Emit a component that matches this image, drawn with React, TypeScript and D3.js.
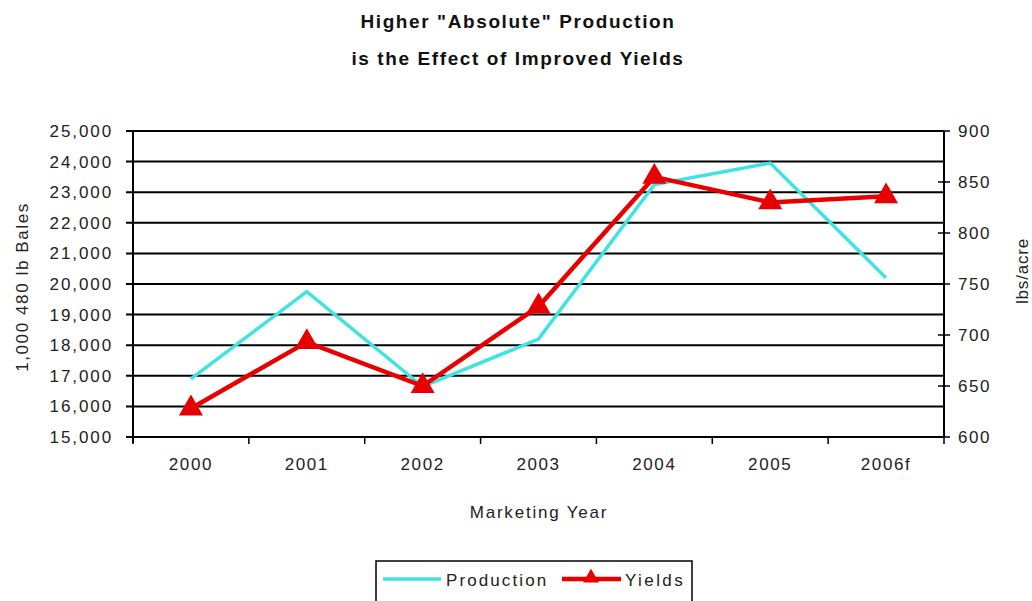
import React from "react";
import * as d3 from "d3";

const years = ["2000", "2001", "2002", "2003", "2004", "2005", "2006f"];
const production = [16900, 19750, 16650, 18200, 23250, 23950, 20200];
const yields = [628, 693, 650, 728, 855, 830, 836];
const leftTicks = [15000, 16000, 17000, 18000, 19000, 20000, 21000, 22000, 23000, 24000, 25000];
const rightTicks = [600, 650, 700, 750, 800, 850, 900];

const W = 1032;
const H = 601;
const M = { left: 133, right: 944, top: 131, bottom: 437 };
const FONT = "'Liberation Sans', Arial, sans-serif";
const CYAN = "#3FE3E3";
const RED = "#E80000";

export default function App() {
  const x = d3.scaleBand<string>().domain(years).range([M.left, M.right]);
  const yL = d3.scaleLinear().domain([15000, 25000]).range([M.bottom, M.top]);
  const yR = d3.scaleLinear().domain([600, 900]).range([M.bottom, M.top]);
  const cx = (d: string) => (x(d) as number) + x.bandwidth() / 2;
  const fmt = d3.format(",");

  const prodLine = d3.line<number>().x((_, i) => cx(years[i])).y((d) => yL(d));
  const yieldLine = d3.line<number>().x((_, i) => cx(years[i])).y((d) => yR(d));
  const tri = d3.symbol().type(d3.symbolTriangle).size(250)();

  const boundaries = years.map((d) => x(d) as number).concat([M.right]);

  return (
    <svg width={W} height={H} style={{ position: "absolute", left: 0, top: 0, background: "#fff" }}
      fontFamily={FONT}>
      <rect x={0} y={0} width={W} height={H} fill="#fff" />
      {/* title */}
      <text x={518} y={28} textAnchor="middle" fontSize={19} fontWeight="bold" letterSpacing={1.6} fill="#111">
        Higher "Absolute" Production
      </text>
      <text x={518} y={65} textAnchor="middle" fontSize={19} fontWeight="bold" letterSpacing={1.6} fill="#111">
        is the Effect of Improved Yields
      </text>

      {/* gridlines */}
      {leftTicks.map((t) => (
        <line key={"g" + t} x1={M.left - 7} x2={M.right} y1={yL(t)} y2={yL(t)} stroke="#000" strokeWidth={2} />
      ))}
      {/* left axis */}
      <line x1={M.left} x2={M.left} y1={M.top} y2={M.bottom + 6} stroke="#000" strokeWidth={2} />
      {leftTicks.map((t) => (
        <text key={"lt" + t} x={113} y={yL(t) + 6} textAnchor="end" fontSize={17} letterSpacing={1.9} fill="#222">
          {fmt(t)}
        </text>
      ))}
      {/* right axis */}
      <line x1={M.right} x2={M.right} y1={M.top} y2={M.bottom} stroke="#000" strokeWidth={2} />
      {rightTicks.map((t) => (
        <g key={"rt" + t}>
          <line x1={M.right - 6} x2={M.right + 6} y1={yR(t)} y2={yR(t)} stroke="#000" strokeWidth={1.5} />
          <text x={958} y={yR(t) + 6} textAnchor="start" fontSize={17} letterSpacing={1.6} fill="#222">
            {t}
          </text>
        </g>
      ))}
      {/* bottom ticks */}
      {boundaries.map((b, i) => (
        <line key={"bt" + i} x1={b} x2={b} y1={M.bottom} y2={M.bottom + 7} stroke="#000" strokeWidth={1.5} />
      ))}
      {years.map((y) => (
        <text key={"xl" + y} x={cx(y)} y={470} textAnchor="middle" fontSize={17} letterSpacing={1.6} fill="#222">
          {y}
        </text>
      ))}

      {/* axis titles */}
      <text transform={`translate(28,287) rotate(-90)`} textAnchor="middle" fontSize={17} letterSpacing={1.6} fill="#222">
        1,000 480 lb Bales
      </text>
      <text transform={`translate(1028,271) rotate(-90)`} textAnchor="middle" fontSize={17} letterSpacing={0.8} fill="#222">
        lbs/acre
      </text>
      <text x={539} y={518} textAnchor="middle" fontSize={17} letterSpacing={1.8} fill="#222">
        Marketing Year
      </text>

      {/* series */}
      <path d={prodLine(production) || ""} fill="none" stroke={CYAN} strokeWidth={3.5} />
      <path d={yieldLine(yields) || ""} fill="none" stroke={RED} strokeWidth={4.5} />
      {yields.map((v, i) => (
        <path key={"m" + i} d={tri || ""} transform={`translate(${cx(years[i])},${yR(v)})`} fill={RED} />
      ))}

      {/* legend */}
      <rect x={376} y={561} width={316} height={50} fill="#fff" stroke="#000" strokeWidth={1.5} />
      <line x1={383} x2={441} y1={579} y2={579} stroke={CYAN} strokeWidth={3.5} />
      <text x={446} y={586} fontSize={17} letterSpacing={2.1} fill="#222">Production</text>
      <line x1={562} x2={621} y1={579} y2={579} stroke={RED} strokeWidth={4.5} />
      <path d={d3.symbol().type(d3.symbolTriangle).size(110)() || ""} transform="translate(591,578)" fill={RED} />
      <text x={625} y={586} fontSize={17} letterSpacing={2.4} fill="#222">Yields</text>
    </svg>
  );
}
